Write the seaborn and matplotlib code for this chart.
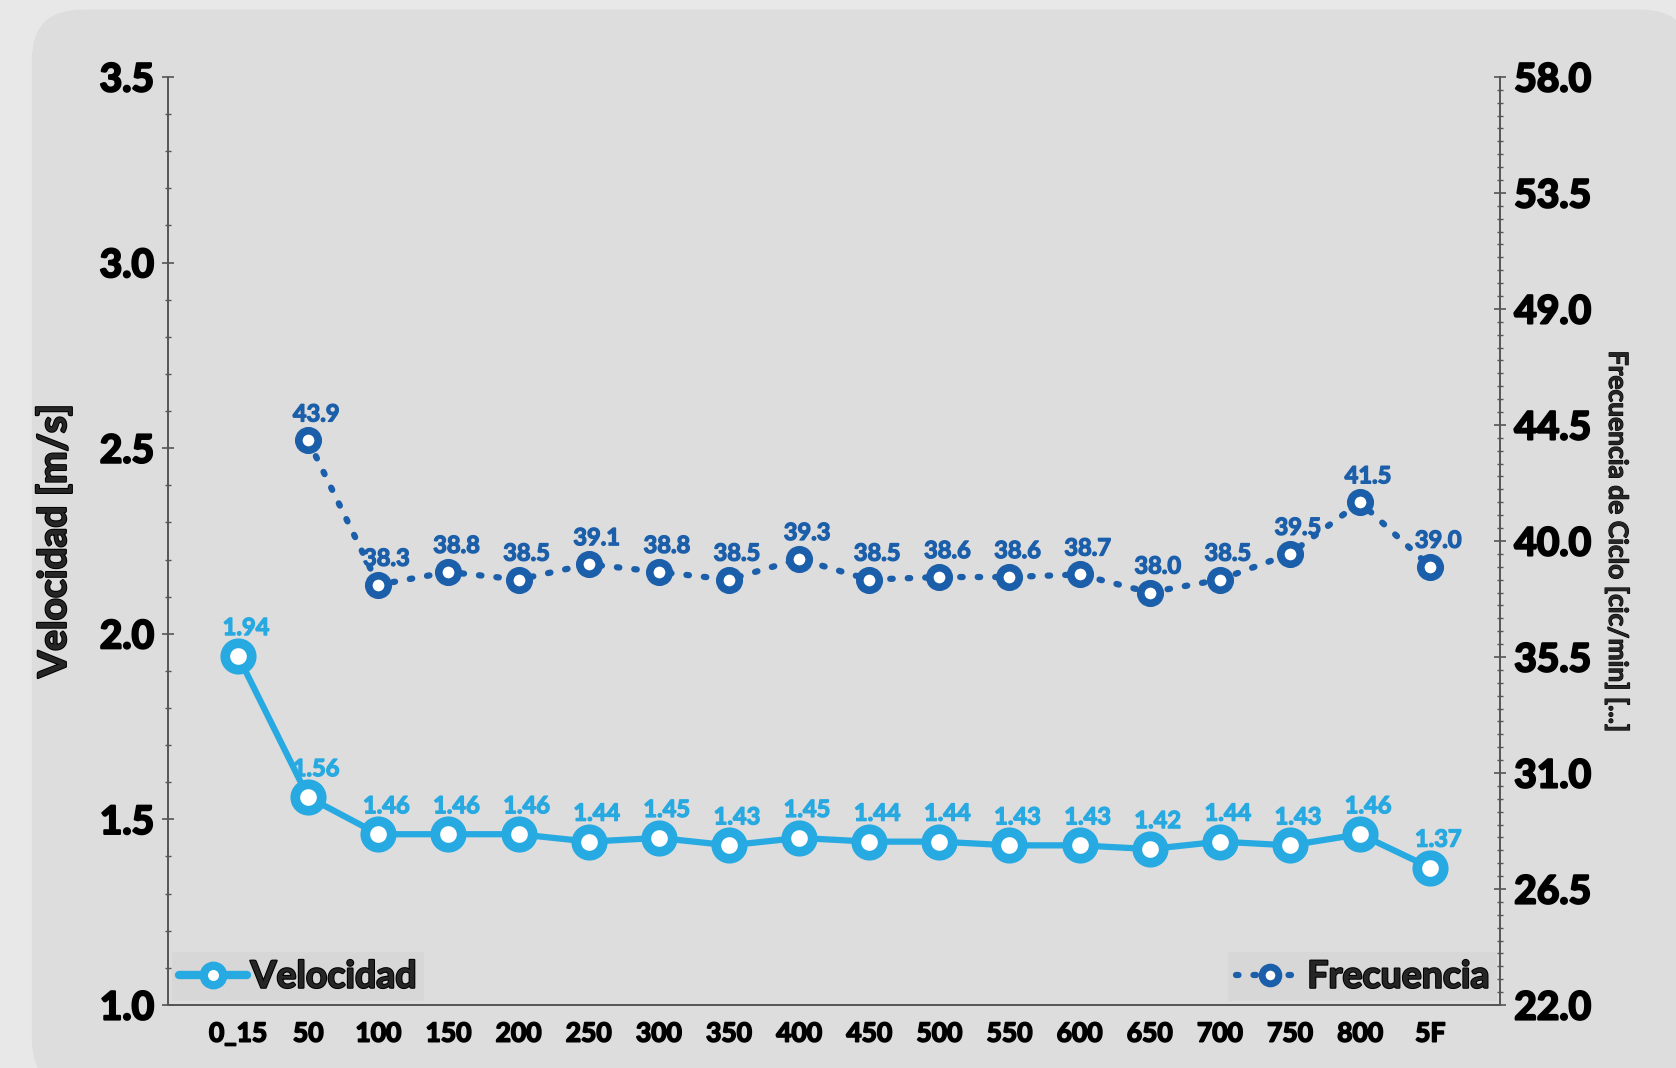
import matplotlib
matplotlib.use("Agg")
import matplotlib.pyplot as plt
import matplotlib.patches as mpatches
import matplotlib.patheffects as pe
from matplotlib.lines import Line2D
from matplotlib.ticker import MultipleLocator, FixedLocator, FormatStrFormatter
import numpy as np
import pandas as pd
import seaborn as sns

OUTER_BG = "#e8e8e8"
PANEL_BG = "#dddddd"
VEL_COLOR = "#27a9e1"
FREC_COLOR = "#1b5ea9"
AXIS_COLOR = "#555555"
W = "bold"


def heavy(color, lw=1.3):
    # fake a heavier weight than the installed bold
    return [pe.withStroke(linewidth=lw, foreground=color)]


categories = ["0_15", "50", "100", "150", "200", "250", "300", "350", "400",
              "450", "500", "550", "600", "650", "700", "750", "800", "5F"]
velocidad = [1.94, 1.56, 1.46, 1.46, 1.46, 1.44, 1.45, 1.43, 1.45,
             1.44, 1.44, 1.43, 1.43, 1.42, 1.44, 1.43, 1.46, 1.37]
frecuencia = [np.nan, 43.9, 38.3, 38.8, 38.5, 39.1, 38.8, 38.5, 39.3,
              38.5, 38.6, 38.6, 38.7, 38.0, 38.5, 39.5, 41.5, 39.0]
frec_ticks = [22.0, 26.5, 31.0, 35.5, 40.0, 44.5, 49.0, 53.5, 58.0]

df = pd.DataFrame({"pos": np.arange(len(categories)), "cat": categories,
                   "Velocidad": velocidad, "Frecuencia": frecuencia})

sns.set_theme(style="white")
plt.rcParams["font.family"] = ["Lato", "DejaVu Sans"]
plt.rcParams["font.weight"] = W

fig = plt.figure(figsize=(16.76, 10.68), dpi=100)
fig.patch.set_facecolor(OUTER_BG)
# rounded panel behind the chart
panel = mpatches.FancyBboxPatch((0.019, -0.02), 0.99, 1.011,
                                boxstyle="round,pad=0.0,rounding_size=0.03",
                                transform=fig.transFigure, facecolor=PANEL_BG,
                                edgecolor="none", zorder=-5,
                                mutation_aspect=1676 / 1068)
fig.add_artist(panel)

ax = fig.add_axes([0.1002, 0.059, 0.795, 0.869])
ax.set_facecolor("none")
ax2 = ax.twinx()
ax2.set_facecolor("none")

sns.lineplot(data=df, x="pos", y="Velocidad", ax=ax, color=VEL_COLOR, lw=4.5,
             marker="o", markersize=19, markerfacecolor="white",
             markeredgecolor=VEL_COLOR, markeredgewidth=7, zorder=3)
sns.lineplot(data=df.dropna(), x="pos", y="Frecuencia", ax=ax2, color=FREC_COLOR,
             lw=4.5, linestyle=(0, (0.4, 2.4)), dash_capstyle="round",
             marker="o", markersize=14, markerfacecolor="white",
             markeredgecolor=FREC_COLOR, markeredgewidth=5.5, zorder=3)

for x, v in zip(df["pos"], velocidad):
    ax.annotate(f"{v:.2f}", (x, v), xytext=(8, 17), textcoords="offset pixels",
                ha="center", va="bottom", fontsize=17, fontweight=W, color=VEL_COLOR,
                path_effects=heavy(VEL_COLOR, 1.0))
for x, f in zip(df["pos"], frecuencia):
    if np.isnan(f):
        continue
    ax2.annotate(f"{f:.1f}", (x, f), xytext=(8, 15), textcoords="offset pixels",
                 ha="center", va="bottom", fontsize=17, fontweight=W, color=FREC_COLOR,
                 path_effects=heavy(FREC_COLOR, 1.0))

ax.set_xlim(-1, len(categories))
ax.set_xticks(df["pos"])
ax.set_xticklabels(categories)
ax.set_ylim(1.0, 3.5)
ax.yaxis.set_major_locator(MultipleLocator(0.5))
ax.yaxis.set_minor_locator(MultipleLocator(0.1))
ax.yaxis.set_major_formatter(FormatStrFormatter("%.1f"))
ax2.set_ylim(22.0, 58.0)
ax2.yaxis.set_major_locator(FixedLocator(frec_ticks))
ax2.yaxis.set_minor_locator(MultipleLocator(0.5))
ax2.yaxis.set_major_formatter(FormatStrFormatter("%.1f"))

ax.set_xlabel("")
ax.set_ylabel("Velocidad [m/s]", fontsize=28, fontweight=W, labelpad=20,
              path_effects=heavy("black", 1.5))
ax2.set_ylabel("Frecuencia de Ciclo [cic/min] [...]", fontsize=19, fontweight=W,
               rotation=-90, labelpad=28, path_effects=heavy("black", 0.8))

for a in (ax, ax2):
    a.spines["top"].set_visible(False)
    for s in ("left", "right", "bottom"):
        a.spines[s].set_color(AXIS_COLOR)
        a.spines[s].set_linewidth(1.2)
    a.tick_params(axis="y", which="major", direction="inout", length=8, width=1.2,
                  color=AXIS_COLOR, labelsize=28, pad=6, labelcolor="black")
    a.tick_params(axis="y", which="minor", direction="inout", length=5, width=1,
                  color=AXIS_COLOR)
ax.tick_params(axis="x", direction="inout", length=8, width=1.2, color=AXIS_COLOR,
               labelsize=19, pad=8, labelcolor="black")
for lbl in ax.get_yticklabels() + ax2.get_yticklabels():
    lbl.set_fontweight(W)
    lbl.set_path_effects(heavy("black", 1.6))
for lbl in ax.get_xticklabels():
    lbl.set_fontweight(W)
    lbl.set_path_effects(heavy("black", 1.2))

h1 = Line2D([], [], color=VEL_COLOR, lw=6, marker="o", markersize=14,
            markerfacecolor="white", markeredgecolor=VEL_COLOR, markeredgewidth=6)
h2 = Line2D([], [], color=FREC_COLOR, lw=4.5, linestyle=(0, (0.4, 2.4)),
            dash_capstyle="round", marker="o", markersize=12,
            markerfacecolor="white", markeredgecolor=FREC_COLOR, markeredgewidth=5)
leg1 = ax.legend([h1], ["Velocidad"], loc="lower left", frameon=True,
                 facecolor="#d7d7d7", edgecolor="none", framealpha=1,
                 prop={"size": 27, "weight": W}, handlelength=1.8,
                 handletextpad=0.1, borderpad=0.2, fancybox=False,
                 borderaxespad=0.1)
ax.add_artist(leg1)
leg2 = ax2.legend([h2], ["Frecuencia"], loc="lower right", frameon=True,
                  facecolor="#d7d7d7", edgecolor="none", framealpha=1,
                  prop={"size": 27, "weight": W}, handlelength=1.8,
                  handletextpad=0.1, borderpad=0.2, fancybox=False,
                  borderaxespad=0.1)
for leg in (leg1, leg2):
    for t in leg.get_texts():
        t.set_path_effects(heavy("black", 1.5))

fig.savefig("out.png", dpi=100, facecolor=OUTER_BG)
